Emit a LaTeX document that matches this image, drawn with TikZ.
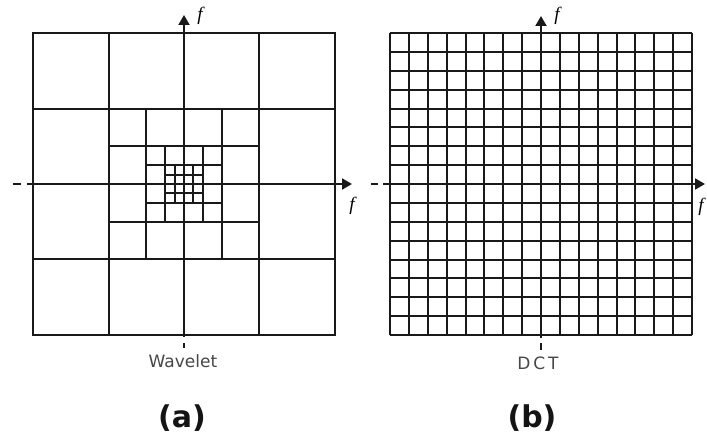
\documentclass[tikz,border=0pt]{standalone}
\usepackage{fontspec}
\setmainfont{DejaVu Sans}
\newfontfamily\seriffam{Liberation Serif}
\usetikzlibrary{arrows.meta}
\begin{document}
\begin{tikzpicture}[x=1pt,y=-1pt,
  gridline/.style={line width=2pt, draw=black!90},
  axisline/.style={line width=2pt, draw=black!90, -{Triangle[length=10pt,width=11pt]}},
  dashbit/.style={line width=2pt, draw=black!90},
  flabel/.style={font=\seriffam\itshape\fontsize{19}{19}\selectfont, inner sep=0pt},
  caption/.style={font=\fontsize{17}{17}\selectfont, text=black!72, inner sep=0pt},
  sublabel/.style={font=\bfseries\fontsize{30}{30}\selectfont, text=black!92, inner sep=0pt}]
\useasboundingbox[fill=white] (0,0) rectangle (707,441);
% ---------- (a) wavelet tiling ----------
\def\c{184}
\draw[gridline] (\c-151,\c-151) rectangle (\c+151,\c+151);
\foreach \q/\h in {75/151,38/75,19/38,9/19}{
  \draw[gridline] (\c-\q,\c-\h) -- (\c-\q,\c+\h);
  \draw[gridline] (\c+\q,\c-\h) -- (\c+\q,\c+\h);
  \draw[gridline] (\c-\h,\c-\q) -- (\c+\h,\c-\q);
  \draw[gridline] (\c-\h,\c+\q) -- (\c+\h,\c+\q);
}
\coordinate (avb) at (\c,337);
\coordinate (avt) at (\c,15);
\coordinate (ahl) at (27,\c);
\coordinate (ahr) at (352,\c);
\draw[axisline] (avb) -- (avt);
\draw[axisline] (ahl) -- (ahr);
\coordinate (ad1) at (\c,343); \coordinate (ad2) at (\c,348);
\draw[dashbit] (ad1) -- (ad2);
\coordinate (ad3) at (13,\c); \coordinate (ad4) at (21,\c);
\draw[dashbit] (ad3) -- (ad4);
\node[flabel] (afv) at (200,16) {f};
\node[flabel] (afh) at (352,206) {f};
\node[caption] (acap) at (183,361) {Wavelet};
\node[sublabel] (alab) at (182,418) {(a)};
% ---------- (b) DCT tiling ----------
\def\bx{541}\def\by{184}
\foreach \i in {0,...,16}{
  \draw[gridline] ({round(390+\i*18.875)},33) -- ({round(390+\i*18.875)},335);
  \draw[gridline] (390,{round(33+\i*18.875)}) -- (692,{round(33+\i*18.875)});
}
\coordinate (bvb) at (\bx,338);
\coordinate (bvt) at (\bx,16);
\coordinate (bhl) at (383,\by);
\coordinate (bhr) at (705,\by);
\draw[axisline] (bvb) -- (bvt);
\draw[axisline] (bhl) -- (bhr);
\coordinate (bd1) at (\bx,343); \coordinate (bd2) at (\bx,350);
\draw[dashbit] (bd1) -- (bd2);
\coordinate (bd3) at (371,\by); \coordinate (bd4) at (378,\by);
\draw[dashbit] (bd3) -- (bd4);
\node[flabel] (bfv) at (557,16) {f};
\node[flabel] (bfh) at (701,207) {f};
\node[caption] (bcap) at (538,363) {D\,C\,T};
\node[sublabel] (blab) at (532,418) {(b)};
\end{tikzpicture}
\end{document}
